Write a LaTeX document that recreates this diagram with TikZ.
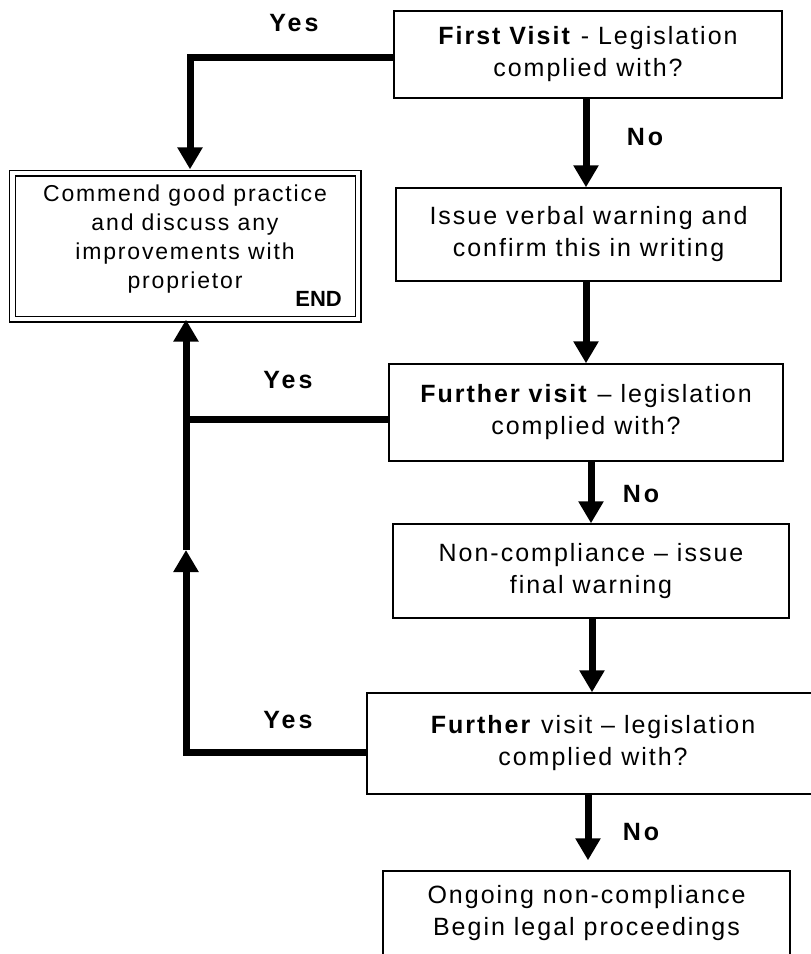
\documentclass[tikz,border=0pt]{standalone}
\usepackage{fontspec}
\setmainfont{Liberation Sans}[LetterSpace=8]
\newfontfamily\answerfont{Liberation Sans}[LetterSpace=12]
\newfontfamily\tagfont{Liberation Sans}
\usetikzlibrary{arrows.meta}
\begin{document}
\begin{tikzpicture}[x=1pt,y=-1pt,
  every node/.style={font=\fontsize{25}{32}\selectfont},
  stepbox/.style={draw, line width=1.4pt, inner sep=0pt, align=center},
  finalbox/.style={draw, double, line width=1.3pt, double distance=4.4pt, inner sep=0pt},
  flow/.style={line width=7pt, line join=miter, -{Triangle[width=24pt,length=22pt]}},
  link/.style={line width=7pt, line join=miter},
  answer/.style={font=\answerfont\bfseries\fontsize{25}{28}\selectfont}]

\fill[white] (0,0) rectangle (811,954);
\useasboundingbox (0,0) rectangle (811,954);

% process boxes
\node[stepbox, minimum width=388pt, minimum height=87pt] (visit1) at (588,54.5)
  {\textbf{First Visit} - Legislation\\complied with?};
\node[stepbox, minimum width=385pt, minimum height=93pt] (warn1) at (588.5,234.5)
  {Issue verbal warning and\\confirm this in writing};
\node[stepbox, minimum width=394pt, minimum height=97pt] (visit2) at (586,412.5)
  {\textbf{Further visit} – legislation\\complied with?};
\node[stepbox, minimum width=396pt, minimum height=94pt] (warn2) at (591,571)
  {Non-compliance – issue\\final warning};
\node[stepbox, minimum width=452pt, minimum height=101pt] (visit3) at (593,743.5)
  {\textbf{Further} visit – legislation\\complied with?};
\node[stepbox, minimum width=407pt, minimum height=84pt] (legal) at (586.5,913)
  {Ongoing non-compliance\\Begin legal proceedings};

% terminal box
\node[finalbox, minimum width=345.5pt, minimum height=146pt] (commend) at (185.25,246) {};
\node[align=center, font=\fontsize{23}{28.7}\selectfont] (commendtext) at (185,239)
  {Commend good practice\\and discuss any\\improvements with\\proprietor};
\node[anchor=east, font=\tagfont\bfseries\fontsize{22}{25}\selectfont, inner sep=0pt] (endmark) at (342,299) {END};

% routing points on the left
\coordinate (yesturn) at (190,57);
\coordinate (spinejoin) at (186,419);
\coordinate (spinefoot) at (186,752);
\coordinate (spinemid) at (186,550);

% "No" path down the right column
\draw[flow] (visit1.south -| 586,0) -- (586,0 |- warn1.north);
\draw[flow] (warn1.south -| 586,0) -- (586,0 |- visit2.north);
\draw[flow] (visit2.south -| 591,0) -- (591,0 |- warn2.north);
\draw[flow] (warn2.south -| 592,0) -- (592,0 |- visit3.north);
\draw[flow, shorten >=10pt] (visit3.south -| 588,0) -- (588,0 |- legal.north);

% "Yes" paths back to the terminal box
\draw[flow, shorten >=3pt] (visit1.west |- yesturn) -- (yesturn) -- (yesturn |- commend.north);
\draw[link] (visit2.west |- spinejoin) -- (spinejoin);
\draw[flow] (visit3.west |- spinefoot) -- (spinefoot) -- (spinemid);
\draw[flow] (spinemid) -- (spinemid |- commend.south);

% branch labels
\node[answer] (yes1) at (294,23) {Yes};
\node[answer] (yes2) at (288,380) {Yes};
\node[answer] (yes3) at (288,720) {Yes};
\node[answer] (no1) at (645,137) {No};
\node[answer] (no2) at (641,494) {No};
\node[answer] (no3) at (641,832) {No};
\end{tikzpicture}
\end{document}
